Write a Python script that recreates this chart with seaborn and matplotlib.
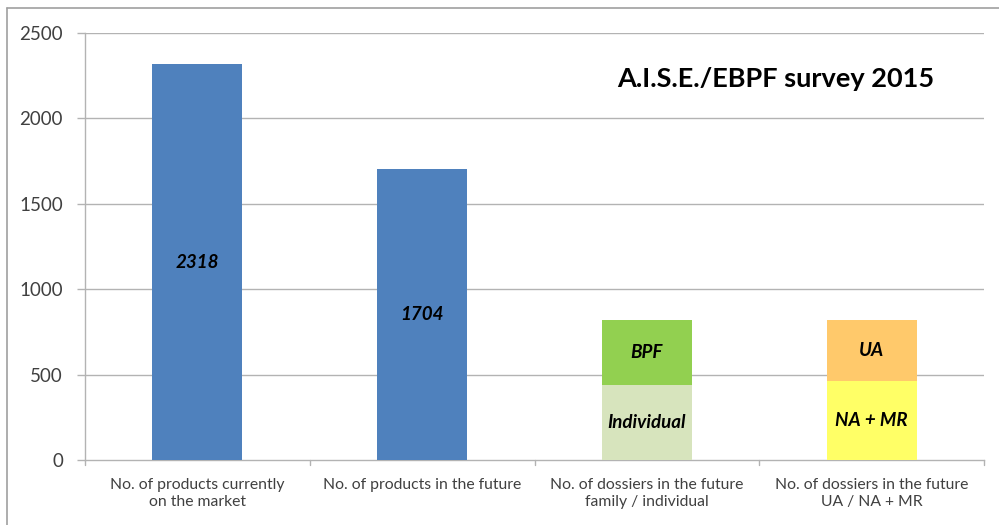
import matplotlib
matplotlib.use("Agg")
import matplotlib.pyplot as plt
import seaborn as sns
import pandas as pd
from matplotlib.lines import Line2D

# Survey figures
categories = [
    "No. of products currently\non the market",
    "No. of products in the future",
    "No. of dossiers in the future\nfamily / individual",
    "No. of dossiers in the future\nUA / NA + MR",
]
lower_values = [2318, 1704, 440, 463]      # bottom segment of each bar
upper_values = [0, 0, 380, 357]            # stacked segment on top
lower_labels = ["2318", "1704", "Individual", "NA + MR"]
upper_labels = ["", "", "BPF", "UA"]
lower_colors = ["#4F81BD", "#4F81BD", "#D7E4BD", "#FFFF66"]
upper_colors = ["#4F81BD", "#4F81BD", "#92D050", "#FFC96B"]
y_ticks = [0, 500, 1000, 1500, 2000, 2500]
title = "A.I.S.E./EBPF survey 2015"

totals = [a + b for a, b in zip(lower_values, upper_values)]
df = pd.DataFrame({"cat": categories, "lower": lower_values,
                   "upper": upper_values, "total": totals})

sns.set_theme(style="white")
plt.rcParams["font.family"] = ["Lato", "DejaVu Sans"]

fig = plt.figure(figsize=(9.99, 5.25), dpi=100)
ax = fig.add_axes([85 / 999, 1 - 460 / 525, 899 / 999, 427 / 525])

grid_c = "#B3B3B3"
for t in y_ticks[1:]:
    ax.axhline(t, color=grid_c, lw=1.0, zorder=0)

# full stack first, lower segment drawn over it
sns.barplot(data=df, x="cat", y="total", hue="cat", palette=upper_colors,
            width=0.4, legend=False, ax=ax, saturation=1, zorder=2,
            linewidth=0)
sns.barplot(data=df, x="cat", y="lower", hue="cat", palette=lower_colors,
            width=0.4, legend=False, ax=ax, saturation=1, zorder=3,
            linewidth=0)

for i in range(len(categories)):
    ax.text(i, lower_values[i] / 2, lower_labels[i], ha="center", va="center",
            fontsize=13.5, fontweight="bold", fontstyle="italic", color="black",
            zorder=5)
    if upper_values[i]:
        ax.text(i, lower_values[i] + upper_values[i] / 2, upper_labels[i],
                ha="center", va="center", fontsize=13.5, fontweight="bold",
                fontstyle="italic", color="black", zorder=5)

ax.set_xlim(-0.5, len(categories) - 0.5)
ax.set_ylim(0, 2500)
ax.set_yticks(y_ticks)
ax.set_yticklabels([str(t) for t in y_ticks], fontsize=13.5, color="#404040")
ax.set_xlabel("")
ax.set_ylabel("")
ax.set_xticks(range(len(categories)))
ax.set_xticklabels(categories, fontsize=11.3, color="#404040", linespacing=1.3)
ax.tick_params(axis="x", length=0, pad=13)
ax.tick_params(axis="y", length=5.8, width=1, color=grid_c, pad=10,
               direction="out", left=True)

for side in ["top", "right"]:
    ax.spines[side].set_visible(False)
for side in ["left", "bottom"]:
    ax.spines[side].set_color(grid_c)
    ax.spines[side].set_linewidth(1.0)

# category separators below the axis
for b in [-0.5, 0.5, 1.5, 2.5, 3.5]:
    ax.plot([b, b], [0, -0.012], transform=ax.get_xaxis_transform(),
            color=grid_c, lw=1.0, clip_on=False)

ax.text(0.945, 0.893, title, transform=ax.transAxes, ha="right", va="center",
        fontsize=19.5, fontweight="bold", color="black")

# outer chart frame
fig.add_artist(Line2D([7 / 999, 7 / 999], [0, 1 - 8 / 525],
                      transform=fig.transFigure, color="#A0A0A0", lw=1.2))
fig.add_artist(Line2D([7 / 999, 1], [1 - 8 / 525, 1 - 8 / 525],
                      transform=fig.transFigure, color="#A0A0A0", lw=1.2))

fig.savefig("out.png", dpi=100, facecolor="white")
